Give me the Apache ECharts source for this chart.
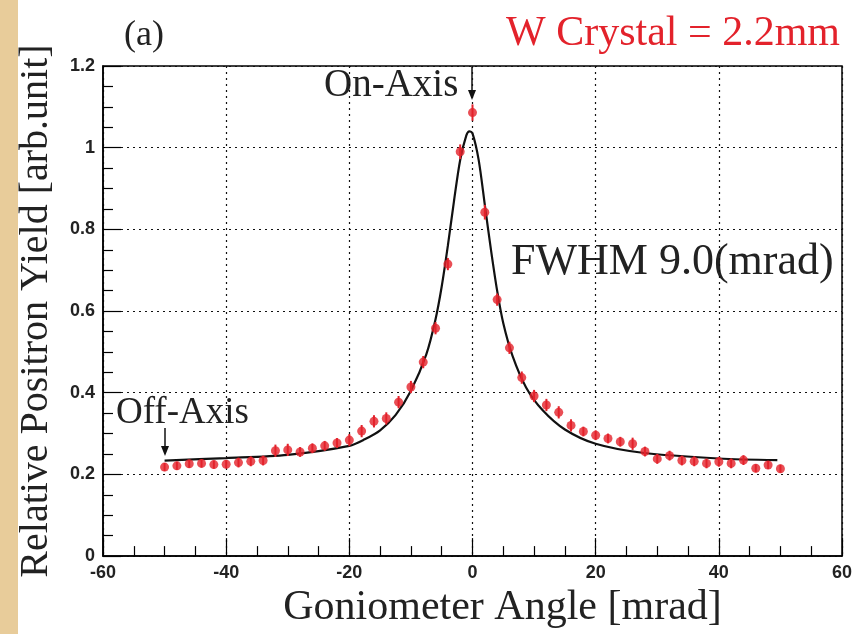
<!DOCTYPE html>
<html>
<head>
<meta charset="utf-8">
<script src="https://cdn.jsdelivr.net/npm/echarts@6/dist/echarts.min.js"></script>
<style>
html, body { margin: 0; padding: 0; background: #fff; }
#main { width: 856px; height: 634px; }
</style>
</head>
<body>
<div id="main"></div>
<script>
var angles = [-50, -48, -46, -44, -42, -40, -38, -36, -34, -32, -30, -28, -26, -24, -22, -20, -18, -16, -14, -12, -10, -8, -6, -4, -2, 0,
  2, 4, 6, 8, 10, 12, 14, 16, 18, 20, 22, 24, 26, 28, 30, 32, 34, 36, 38, 40, 42, 44, 46, 48, 50]
var yields = [0.218, 0.221, 0.226, 0.227, 0.224, 0.225, 0.229, 0.232, 0.234, 0.258, 0.26, 0.255, 0.264, 0.27, 0.277, 0.284, 0.306, 0.33, 0.337, 0.377, 0.414, 0.475, 0.558, 0.715, 0.99, 1.086,
  0.842, 0.628, 0.51, 0.437, 0.392, 0.37, 0.352, 0.32, 0.305, 0.296, 0.288, 0.28, 0.275, 0.256, 0.238, 0.246, 0.234, 0.232, 0.227, 0.231, 0.227, 0.235, 0.215, 0.223, 0.214]
var errors = [0.01, 0.01, 0.01, 0.01, 0.01, 0.01, 0.012, 0.012, 0.012, 0.015, 0.015, 0.012, 0.012, 0.012, 0.012, 0.015, 0.015, 0.015, 0.015, 0.015, 0.015, 0.015, 0.015, 0.015, 0.018, 0.02,
  0.018, 0.015, 0.015, 0.015, 0.015, 0.015, 0.015, 0.015, 0.012, 0.012, 0.012, 0.012, 0.015, 0.012, 0.012, 0.012, 0.012, 0.012, 0.012, 0.012, 0.012, 0.012, 0.01, 0.01, 0.01]

// fitted curve
var fitX = [-50, -40, -30, -20, -17.5, -15, -12.5, -10, -7.5, -6, -5, -4, -3, -2, -1, -0.5, 0, 1, 2, 3, 4, 5, 6.5, 8.7, 11.4, 15, 20, 27.6, 40, 49.5]
var fitY = [0.234, 0.24, 0.248, 0.27, 0.286, 0.308, 0.345, 0.405, 0.494, 0.58, 0.66, 0.76, 0.87, 0.97, 1.03, 1.04, 1.035, 0.97, 0.86, 0.75, 0.65, 0.57, 0.49, 0.413, 0.357, 0.31, 0.275, 0.253, 0.239, 0.235]

var xTicks = [-60, -40, -20, 0, 20, 40, 60]
var yTicks = [0, 0.2, 0.4, 0.6, 0.8, 1, 1.2]

var points = angles.map(function (a, i) { return [a, yields[i]] })
var bars = angles.map(function (a, i) { return [a, yields[i] - errors[i], yields[i] + errors[i]] })
var fit = fitX.map(function (a, i) { return [a, fitY[i]] })

var red = '#e3222b'
var serif = '"Liberation Serif", "DejaVu Serif", serif'
var sans = '"Liberation Sans", Arial, sans-serif'

var chart = echarts.init(document.getElementById('main'))

var option = {
  animation: false,
  backgroundColor: '#fff',
  grid: { left: 103, right: 14, top: 66, bottom: 74, show: true, borderColor: '#000', borderWidth: 1.5, backgroundColor: 'transparent' },
  xAxis: {
    type: 'value', min: xTicks[0], max: xTicks[xTicks.length - 1], interval: 20,
    name: 'Goniometer Angle [mrad]', nameLocation: 'middle', nameGap: 27,
    nameTextStyle: { fontFamily: serif, fontSize: 42, color: '#222', padding: [0, 0, 0, 60] },
    axisLine: { onZero: false, lineStyle: { color: '#000', width: 1.5 } },
    axisTick: { inside: true, length: 18, lineStyle: { color: '#000', width: 1.2 } },
    minorTick: { show: true, splitNumber: 4, length: 10, lineStyle: { color: '#000', width: 1.2 } },
    axisLabel: { fontFamily: sans, fontWeight: 'bold', fontSize: 18, color: '#222', margin: 8 },
    splitLine: { show: true, lineStyle: { color: '#111', type: [2, 4], width: 1.2 } }
  },
  yAxis: {
    type: 'value', min: yTicks[0], max: yTicks[yTicks.length - 1], interval: 0.2,
    name: 'Relative Positron Yield [arb.unit]', nameLocation: 'middle', nameGap: 47,
    nameTextStyle: { fontFamily: serif, fontSize: 40, color: '#222', padding: [0, 0, 0, 0] },
    axisLine: { onZero: false, lineStyle: { color: '#000', width: 1.5 } },
    axisTick: { inside: true, length: 18, lineStyle: { color: '#000', width: 1.2 } },
    minorTick: { show: true, splitNumber: 4, length: 10, lineStyle: { color: '#000', width: 1.2 } },
    axisLabel: { fontFamily: sans, fontWeight: 'bold', fontSize: 18, color: '#222', margin: 8,
      formatter: function (v) { return String(Math.round(v * 10) / 10) } },
    splitLine: { show: true, lineStyle: { color: '#111', type: [2, 4], width: 1.2 } }
  },
  series: [
    {
      type: 'line', data: fit, smooth: 0.3, symbol: 'none',
      lineStyle: { color: '#111', width: 2.2 }, z: 3
    },
    {
      type: 'custom', data: bars, z: 4,
      renderItem: function (params, api) {
        var lo = api.coord([api.value(0), api.value(1)])
        var hi = api.coord([api.value(0), api.value(2)])
        return { type: 'line', shape: { x1: lo[0], y1: lo[1], x2: hi[0], y2: hi[1] },
          style: { stroke: red, lineWidth: 2 } }
      }
    },
    {
      type: 'scatter', data: points, symbol: 'circle', symbolSize: 9,
      itemStyle: { color: red }, z: 5
    }
  ],
  graphic: [
    { type: 'rect', left: 0, top: 0, shape: { width: 18, height: 634 }, style: { fill: '#e8cc9a' }, z: 0 },
    { type: 'text', left: 124, top: 18, style: { text: '(a)', font: '36px ' + serif, fill: '#222' } },
    { type: 'text', right: 16, top: 13, style: { text: 'W Crystal = 2.2mm', font: '42px ' + serif, fill: red } },
    { type: 'text', left: 324, top: 66, style: { text: 'On-Axis', font: '39px ' + serif, fill: '#222' } },
    { type: 'line', shape: { x1: 472, y1: 67, x2: 472, y2: 98 }, style: { stroke: '#111', lineWidth: 1.5 } },
    { type: 'polygon', shape: { points: [[468, 90], [476, 90], [472, 100]] }, style: { fill: '#111' } },
    { type: 'text', left: 511, top: 240, style: { text: 'FWHM 9.0(mrad)', font: '44px ' + serif, fill: '#222' } },
    { type: 'text', left: 116, top: 395, style: { text: 'Off-Axis', font: '37px ' + serif, fill: '#222' } },
    { type: 'line', shape: { x1: 165, y1: 428, x2: 165, y2: 453 }, style: { stroke: '#111', lineWidth: 1.5 } },
    { type: 'polygon', shape: { points: [[161, 446], [169, 446], [165, 456]] }, style: { fill: '#111' } }
  ]
}

chart.setOption(option)
</script>
</body>
</html>
